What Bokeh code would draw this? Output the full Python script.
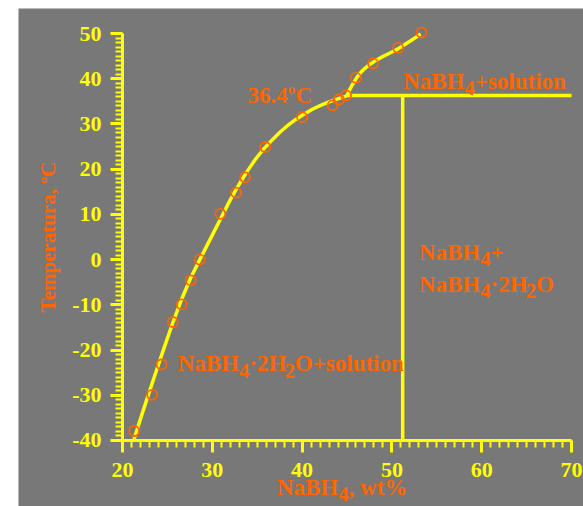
from bokeh.plotting import figure
from bokeh.models import SingleIntervalTicker, Range1d, Spacer, ColumnDataSource
from bokeh.layouts import row, column
from bokeh.core.properties import value, field
from bokeh.embed import file_html
from bokeh.resources import INLINE

# measured solubility points (NaBH4 wt%, temperature °C)
meas_wt = [21.3, 23.3, 24.35, 25.6, 26.6, 27.6, 28.6, 30.9, 32.65, 33.65, 35.9,
           40.0, 43.4, 44.1, 44.9, 46.0, 47.9, 50.7, 53.3]
meas_T = [-37.9, -29.9, -23.2, -13.8, -9.9, -4.6, 0.0, 10.1, 14.8, 18.2, 24.9,
          31.5, 34.1, 35.4, 36.3, 40.2, 43.4, 46.8, 50.2]

# liquidus of NaBH4·2H2O
liq1_wt = [21.24, 22.3, 23.4, 24.5, 25.63, 26.6, 27.6, 28.74, 30.1, 31.1, 32.0,
           32.94, 33.85, 34.77, 35.7, 36.59, 37.5, 38.42, 39.3, 40.25, 41.2,
           42.07, 43.0, 43.9, 45.0]
liq1_T = [-40.0, -33.4, -26.8, -20.3, -13.8, -8.7, -4.0, 0.5, 5.8, 9.7, 13.2,
          16.5, 19.4, 22.1, 24.4, 26.3, 28.1, 29.7, 31.0, 32.2, 33.3,
          34.1, 34.9, 35.5, 36.2]

# liquidus of NaBH4
liq2_wt = [45.0, 45.2, 45.55, 46.1, 46.5, 47.0, 47.5, 48.1, 48.7, 49.4, 50.0,
           50.67, 51.4, 52.1, 52.7, 53.2]
liq2_T = [36.3, 37.2, 38.5, 40.3, 41.3, 42.3, 43.1, 43.9, 44.6, 45.3, 45.9,
          46.6, 47.5, 48.4, 49.2, 49.9]

# peritectic line and dihydrate composition
peri_T = 36.3
peri_wt_start = 45.0
dihydrate_wt = 51.2

# axis extents and ticks
x_min, x_max = 20, 70
t_min, t_max = -40, 50
tick_step = 10
y_ticks = [-40, -30, -20, -10, 0, 10, 20, 30, 40, 50]
y_tick_labels = ["-40", "-30", "-20", "-10", "0", "10", "20", "30", "40", "50"]

# region labels ("_x" marks a subscript character)
lab_x = [33.93, 51.25, 26.14, 53.0, 53.0, 44.45]
lab_y = [36.3, 39.4, -23.0, 1.6, -5.5, -50.3]
lab_t = ["36.4ºC", "NaBH_4+solution", "NaBH_4·2H_2O+solution", "NaBH_4+",
         "NaBH_4·2H_2O", "NaBH_4, wt%"]
lab_centered = [False, False, False, False, False, True]

BG = "#787878"
YEL = "#FFFF00"
ORG = "#FF6600"
FONT = "Liberation Serif"
LAB_SIZE = 23
SUB_SCALE = 0.9
SUB_DROP = 1.55  # subscript drop, in temperature units (~7px)

# Times/Liberation Serif Bold advance widths (per 1000 em)
WID = {'N': 722, 'a': 500, 'B': 667, 'H': 778, '+': 570, 's': 389, 'o': 500,
       'l': 278, 'u': 556, 't': 333, 'i': 278, 'n': 556, '·': 250, 'O': 778,
       ',': 250, ' ': 250, 'w': 722, '%': 1000, '.': 250, 'C': 722, 'º': 330}
for d in "0123456789":
    WID[d] = 500


def split(markup, size):
    """Return [(text, dx_px, is_sub)], total width."""
    out = []
    x = 0.0
    cur = ""
    cur_x = 0.0
    i = 0
    while i < len(markup):
        ch = markup[i]
        if ch == "_" and i + 1 < len(markup):
            if cur:
                out.append((cur, cur_x, False))
                cur = ""
            sc = markup[i + 1]
            out.append((sc, x, True))
            x += WID.get(sc, 500) / 1000 * size * SUB_SCALE
            cur_x = x
            i += 2
            continue
        if not cur:
            cur_x = x
        cur += ch
        x += WID.get(ch, 500) / 1000 * size
        i += 1
    if cur:
        out.append((cur, cur_x, False))
    return out, x


# the frame fills the whole figure; both axes sit at fixed locations
FIG_W, FIG_H = 565, 498
PX_PER_T = 4.522
PX_PER_WT = 8.98
y_lo = t_min - 66 / PX_PER_T
y_hi = t_max + 25 / PX_PER_T
x_lo = x_min - 104 / PX_PER_WT
x_hi = x_lo + FIG_W / PX_PER_WT

p = figure(width=FIG_W, height=FIG_H, output_backend="svg", toolbar_location=None,
           x_range=Range1d(x_lo, x_hi), y_range=Range1d(y_lo, y_hi),
           min_border_left=0, min_border_right=0, min_border_top=0,
           min_border_bottom=0)
p.background_fill_color = BG
p.border_fill_color = BG
p.outline_line_color = None
p.grid.visible = False

p.xaxis.fixed_location = t_min
p.yaxis.fixed_location = x_min
p.xaxis.bounds = (x_min, x_max)
p.yaxis.bounds = (t_min, t_max)

for ax in (p.xaxis, p.yaxis):
    ax.ticker = SingleIntervalTicker(interval=tick_step, num_minor_ticks=10)
    ax.axis_line_color = YEL
    ax.axis_line_width = 3
    ax.major_tick_line_color = YEL
    ax.major_tick_line_width = 3
    ax.minor_tick_line_color = YEL
    ax.minor_tick_line_width = 2
    ax.major_tick_in = 0
    ax.major_tick_out = 12
    ax.minor_tick_in = 0
    ax.minor_tick_out = 7
    ax.major_label_text_color = YEL
    ax.major_label_text_font = FONT
    ax.major_label_text_font_style = "bold"
    ax.major_label_text_font_size = "22px"
p.xaxis.major_label_standoff = 11
p.yaxis.major_label_standoff = 9
p.yaxis.major_label_overrides = dict(zip(y_ticks, y_tick_labels))

p.yaxis.axis_label = "Temperatura, ºC"
p.yaxis.axis_label_text_color = ORG
p.yaxis.axis_label_text_font = FONT
p.yaxis.axis_label_text_font_style = "bold"
p.yaxis.axis_label_text_font_size = "21px"
p.yaxis.axis_label_standoff = 9

# phase boundaries
p.line(liq1_wt, liq1_T, line_color=YEL, line_width=3.5)
p.line(liq2_wt, liq2_T, line_color=YEL, line_width=3.5)
p.line([peri_wt_start, x_max], [peri_T, peri_T], line_color=YEL, line_width=3.5)
p.line([dihydrate_wt, dihydrate_wt], [t_min, peri_T], line_color=YEL, line_width=3.5)

p.scatter(meas_wt, meas_T, marker="circle", size=10, fill_color=None,
          line_color=ORG, line_width=1.8)

# labels with subscripts (incl. x-axis title)
src = dict(x=[], y=[], t=[], dx=[], fs=[])
for lx, ly, lt, cen in zip(lab_x, lab_y, lab_t, lab_centered):
    parts, total = split(lt, LAB_SIZE)
    shift = -total / 2 if cen else 0.0
    for txt, dx, sub in parts:
        src["x"].append(lx)
        src["y"].append(ly - SUB_DROP if sub else ly)
        src["t"].append(txt)
        src["dx"].append(dx + shift)
        src["fs"].append(f"{LAB_SIZE * SUB_SCALE:.1f}px" if sub else f"{LAB_SIZE}px")
p.text(x="x", y="y", text="t", x_offset="dx", text_font_size=field("fs"),
       source=ColumnDataSource(src), text_color=ORG, text_font=value(FONT),
       text_font_style="bold", text_align="left", text_baseline="middle")

layout = column(Spacer(width=583, height=8),
                row(Spacer(width=18, height=FIG_H), p))
open("out.html", "w").write(file_html(layout, INLINE))
